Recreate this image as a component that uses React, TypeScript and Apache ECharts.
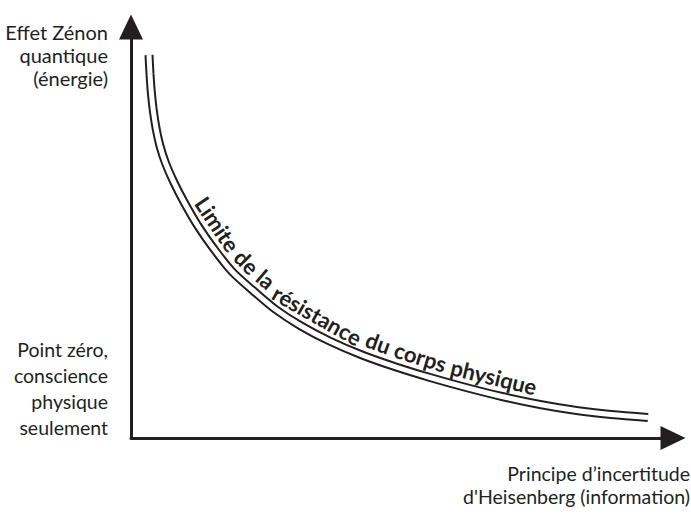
import React, { useEffect, useRef } from "react";
import * as echarts from "echarts";

// Centre line of the double curve (axis units: x 0..542, y 0..411)
const curveX = [18, 19, 20.3, 22.3, 25.2, 29, 34.5, 43, 53, 67, 83, 101, 122, 144, 170, 198.5, 231, 265, 299, 335, 371, 409, 445.5, 480, 517];
const curveY = [383, 364, 346, 327.5, 309, 292, 275, 255.5, 236, 212, 189, 166.5, 147.5, 129, 112, 97, 83, 71, 60.5, 50.5, 41.5, 33.5, 27.5, 23.5, 20.5];

const xMax = 542;
const yMax = 411;

const yTopLabel = ["Effet Zénon", "quantique", "(énergie)"];
const yBottomLabel = ["Point zéro,", "conscience", "physique", "seulement"];
const xLabel = ["Principe d’incertitude", "d'Heisenberg (information)"];
const curveWords = ["Limite", "de", "la", "résistance", "du", "corps", "physique"];

const INK = "#231f20";
const FONT = "Lato, 'Open Sans', sans-serif";
const WORD_SIZE = 22;

export default function App() {
  const ref = useRef<HTMLDivElement>(null);
  useEffect(() => {
    if (!ref.current) return;
    const chart = echarts.init(ref.current, null, { renderer: "svg" });
    const axisCommon = {
      type: "value" as const,
      min: 0,
      axisLine: {
        show: true,
        symbol: ["none", "triangle"],
        symbolSize: [24, 25],
        lineStyle: { color: INK, width: 3 },
      },
      axisTick: { show: false },
      axisLabel: { show: false },
      splitLine: { show: false },
    };
    const curveData = curveX.map((x, i) => [x, curveY[i]]);
    chart.setOption({
      animation: false,
      backgroundColor: "#ffffff",
      grid: { left: 131, right: 18, top: 27, bottom: 78 },
      xAxis: { ...axisCommon, max: xMax },
      yAxis: { ...axisCommon, max: yMax },
      series: [
        {
          type: "line",
          data: curveData,
          smooth: 0.3,
          symbol: "none",
          silent: true,
          lineStyle: { color: INK, width: 9, cap: "butt" },
        },
        {
          type: "line",
          data: curveData,
          smooth: 0.3,
          symbol: "none",
          silent: true,
          lineStyle: { color: "#ffffff", width: 5, cap: "butt" },
        },
      ],
    });

    // --- curved caption laid out along the curve ---
    const pts = curveData.map((d) => chart.convertToPixel({ gridIndex: 0 }, d) as number[]);
    const D = 17;
    const off = pts.map((p, i) => {
      const a = pts[Math.max(0, i - 1)];
      const b = pts[Math.min(pts.length - 1, i + 1)];
      const tx = b[0] - a[0];
      const ty = b[1] - a[1];
      const len = Math.hypot(tx, ty) || 1;
      return [p[0] + (D * ty) / len, p[1] - (D * tx) / len];
    });
    const cum: number[] = [0];
    for (let i = 1; i < off.length; i++) {
      cum.push(cum[i - 1] + Math.hypot(off[i][0] - off[i - 1][0], off[i][1] - off[i - 1][1]));
    }
    const pointAt = (s: number) => {
      let i = 1;
      while (i < off.length - 1 && cum[i] < s) i++;
      const seg = cum[i] - cum[i - 1] || 1;
      const t = (s - cum[i - 1]) / seg;
      return [
        off[i - 1][0] + (off[i][0] - off[i - 1][0]) * t,
        off[i - 1][1] + (off[i][1] - off[i - 1][1]) * t,
      ];
    };
    // start of caption: closest point to the start of "Limite"
    const startTarget = [200, 199];
    let s0 = 0;
    let best = Infinity;
    for (let s = 0; s < cum[cum.length - 1]; s += 0.5) {
      const p = pointAt(s);
      const dd = Math.hypot(p[0] - startTarget[0], p[1] - startTarget[1]);
      if (dd < best) {
        best = dd;
        s0 = s;
      }
    }
    const canvas = document.createElement("canvas");
    const ctx = canvas.getContext("2d");
    const fontStr = `bold ${WORD_SIZE}px Lato`;
    const measure = (t: string) => {
      if (!ctx) return t.length * WORD_SIZE * 0.5;
      ctx.font = fontStr;
      return ctx.measureText(t).width;
    };
    const spaceW = measure(" ");
    let s = s0;
    const wordGraphics = curveWords.map((w) => {
      const wW = measure(w);
      const a = pointAt(s);
      const b = pointAt(s + wW);
      const m = pointAt(s + wW / 2);
      const ang = Math.atan2(b[1] - a[1], b[0] - a[0]);
      s += wW + spaceW;
      return {
        type: "text",
        x: m[0],
        y: m[1],
        rotation: -ang,
        style: {
          text: w,
          fontFamily: FONT,
          fontSize: WORD_SIZE,
          fontWeight: "bold",
          fill: INK,
          align: "center",
          verticalAlign: "middle",
        },
      };
    });

    const textStyleBase = {
      fontFamily: FONT,
      fontSize: 19.5,
      fill: INK,
    };
    chart.setOption({
      graphic: [
        {
          type: "text",
          x: 108,
          y: 20,
          style: { ...textStyleBase, fontSize: 20, text: yTopLabel.join("\n"), align: "right", verticalAlign: "top", lineHeight: 23 },
        },
        {
          type: "text",
          x: 108,
          y: 336,
          style: { ...textStyleBase, text: yBottomLabel.join("\n"), align: "right", verticalAlign: "top", lineHeight: 26 },
        },
        {
          type: "text",
          x: 690,
          y: 462,
          style: { ...textStyleBase, text: xLabel.join("\n"), align: "right", verticalAlign: "top", lineHeight: 23 },
        },
        ...wordGraphics,
      ],
    });
    return () => chart.dispose();
  }, []);
  return (
    <div
      ref={ref}
      style={{ position: "absolute", left: 0, top: 0, width: 691, height: 516 }}
    />
  );
}
